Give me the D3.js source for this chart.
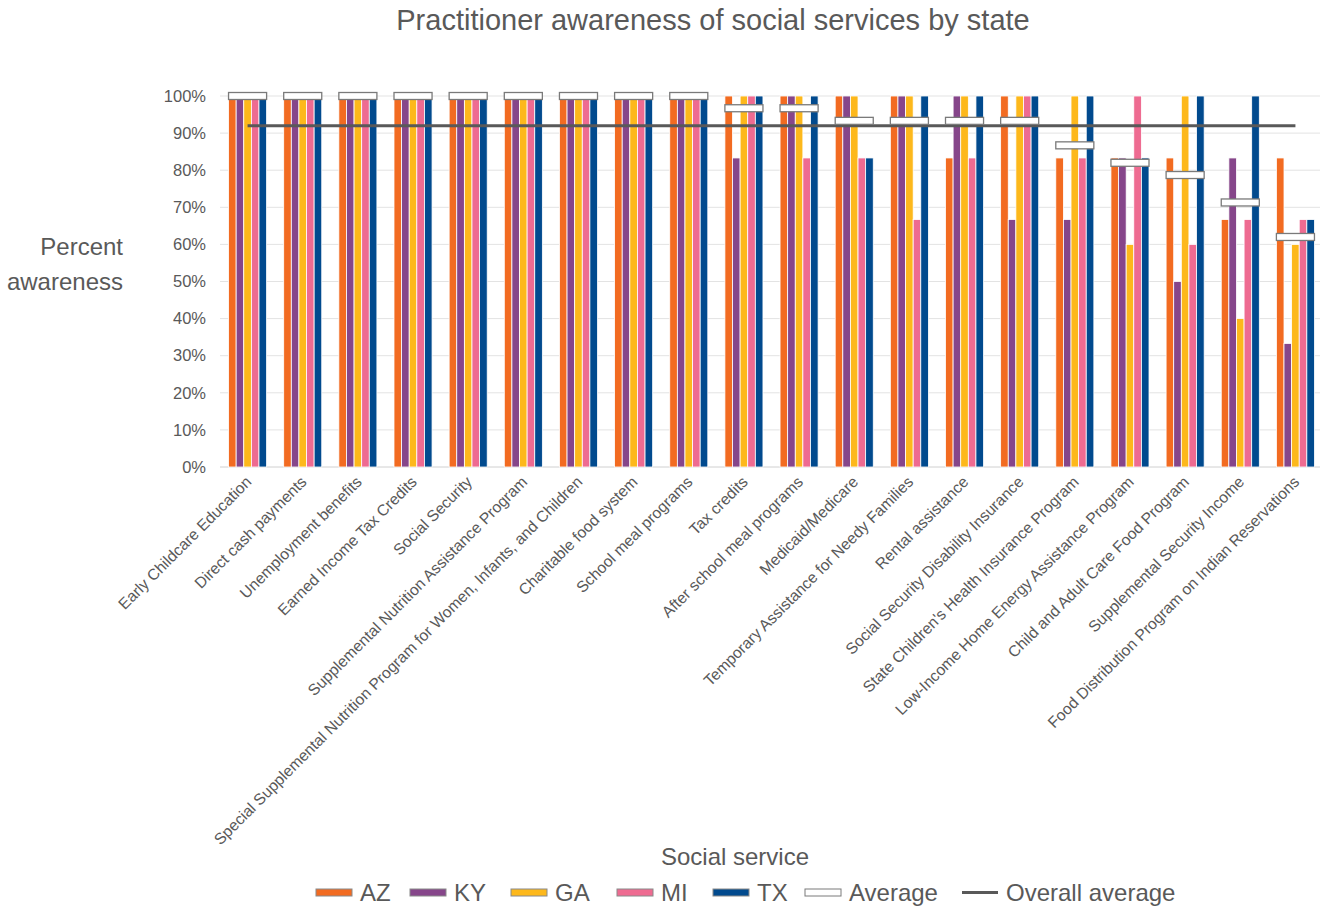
<!DOCTYPE html>
<html><head><meta charset="utf-8">
<script src="https://cdn.jsdelivr.net/npm/d3@7"></script>
<style>
body{margin:0;background:#fff;}
text{font-family:"Liberation Sans",Arial,sans-serif;fill:#595959;}
</style></head>
<body><svg id="c" width="1320" height="907"></svg>
<script>
const categories = ["Early Childcare Education","Direct cash payments","Unemployment benefits","Earned Income Tax Credits","Social Security","Supplemental Nutrition Assistance Program","Special Supplemental Nutrition Program for Women, Infants, and Children","Charitable food system","School meal programs","Tax credits","After school meal programs","Medicaid/Medicare","Temporary Assistance for Needy Families","Rental assistance","Social Security Disability Insurance","State Children's Health Insurance Program","Low-Income Home Energy Assistance Program","Child and Adult Care Food Program","Supplemental Security Income","Food Distribution Program on Indian Reservations"];
const states = ["AZ","KY","GA","MI","TX"];
const colors = ["#F26B21","#86468A","#FDB81B","#EE6B91","#014A8E"];
const AZ = [100,100,100,100,100,100,100,100,100,100,100,100,100,83.3,100,83.3,83.3,83.3,66.7,83.3];
const KY = [100,100,100,100,100,100,100,100,100,83.3,100,100,100,100,66.7,66.7,83.3,50,83.3,33.3];
const GA = [100,100,100,100,100,100,100,100,100,100,100,100,100,100,100,100,60,100,40,60];
const MI = [100,100,100,100,100,100,100,100,100,100,83.3,83.3,66.7,83.3,100,83.3,100,60,66.7,66.7];
const TX = [100,100,100,100,100,100,100,100,100,100,100,83.3,100,100,100,100,83.3,100,100,66.7];
const average = [100,100,100,100,100,100,100,100,100,96.7,96.7,93.3,93.3,93.3,93.3,86.7,82,78.7,71.3,62];
const overallAverage = 92;
const yTicks = [0,10,20,30,40,50,60,70,80,90,100];
const series = [AZ,KY,GA,MI,TX];

const svg = d3.select("#c");
const x = d3.scaleBand().domain(categories).range([220,1323]).paddingInner(0.31).paddingOuter(0.155);
const xs = d3.scaleBand().domain(states).range([0,x.bandwidth()]);
const y = d3.scaleLinear().domain([0,100]).range([467,96]);

// title
svg.append("text").attr("x",713).attr("y",30).attr("text-anchor","middle").style("font-size","29px").text("Practitioner awareness of social services by state");

// gridlines
svg.append("g").selectAll("line").data(yTicks).join("line")
  .attr("x1",220).attr("x2",1323).attr("y1",d=>y(d)).attr("y2",d=>y(d))
  .attr("stroke",d=>d===0?"#d0d0d0":"#e3e3e3").attr("stroke-width",1);

// y axis
const ya = svg.append("g").attr("transform","translate(206,0)")
  .call(d3.axisLeft(y).tickValues(yTicks).tickFormat(d=>d+"%").tickSize(0).tickPadding(0));
ya.select(".domain").remove();
ya.selectAll("text").style("font-size","16.5px").style("fill","#595959").style("font-family","Liberation Sans, Arial, sans-serif");

svg.append("text").attr("x",123).attr("y",255).attr("text-anchor","end").style("font-size","24px").text("Percent");
svg.append("text").attr("x",123).attr("y",290).attr("text-anchor","end").style("font-size","24px").text("awareness");

// bars
const g = svg.append("g");
states.forEach((s,si)=>{
  g.append("g").selectAll("rect").data(series[si]).join("rect")
    .attr("x",(d,i)=>x(categories[i])+xs(s))
    .attr("y",d=>y(d))
    .attr("width",xs.bandwidth())
    .attr("height",d=>y(0)-y(d))
    .attr("fill",colors[si]).attr("stroke","#fff").attr("stroke-width",0.8);
});

// overall average line
svg.append("line")
  .attr("x1",x(categories[0])+x.bandwidth()/2).attr("x2",x(categories[categories.length-1])+x.bandwidth()/2)
  .attr("y1",y(overallAverage)).attr("y2",y(overallAverage))
  .attr("stroke","#595959").attr("stroke-width",3);

// average markers
svg.append("g").selectAll("rect").data(average).join("rect")
  .attr("x",(d,i)=>x(categories[i]))
  .attr("y",d=>y(d)-3.5)
  .attr("width",x.bandwidth()).attr("height",7)
  .attr("fill","#fff").attr("stroke","#7a7a7a").attr("stroke-width",1.3);

// x labels
svg.append("g").selectAll("text").data(categories).join("text")
  .attr("transform",d=>`translate(${x(d)+x.bandwidth()/2+1},${479}) rotate(-45)`)
  .attr("text-anchor","end").attr("dy","0.35em")
  .style("font-size","15.7px").text(d=>d);

svg.append("text").attr("x",735).attr("y",865).attr("text-anchor","middle").style("font-size","24px").text("Social service");

// legend
const legendItems = [
  {label:"AZ",type:"rect",color:colors[0],x:316},
  {label:"KY",type:"rect",color:colors[1],x:410},
  {label:"GA",type:"rect",color:colors[2],x:511},
  {label:"MI",type:"rect",color:colors[3],x:617},
  {label:"TX",type:"rect",color:colors[4],x:713},
  {label:"Average",type:"rect",color:"#fff",x:805},
  {label:"Overall average",type:"line",color:"#595959",x:962}
];
const lg = svg.append("g");
legendItems.forEach(it=>{
  if(it.type==="rect"){
    lg.append("rect").attr("x",it.x).attr("y",889).attr("width",36).attr("height",7)
      .attr("fill",it.color).attr("stroke",it.color==="#fff"?"#7a7a7a":"#8a8a8a").attr("stroke-width",1);
  } else {
    lg.append("line").attr("x1",it.x).attr("x2",it.x+36).attr("y1",892.5).attr("y2",892.5).attr("stroke",it.color).attr("stroke-width",3);
  }
  lg.append("text").attr("x",it.x+44).attr("y",901).style("font-size","24px").text(it.label);
});
</script></body></html>
